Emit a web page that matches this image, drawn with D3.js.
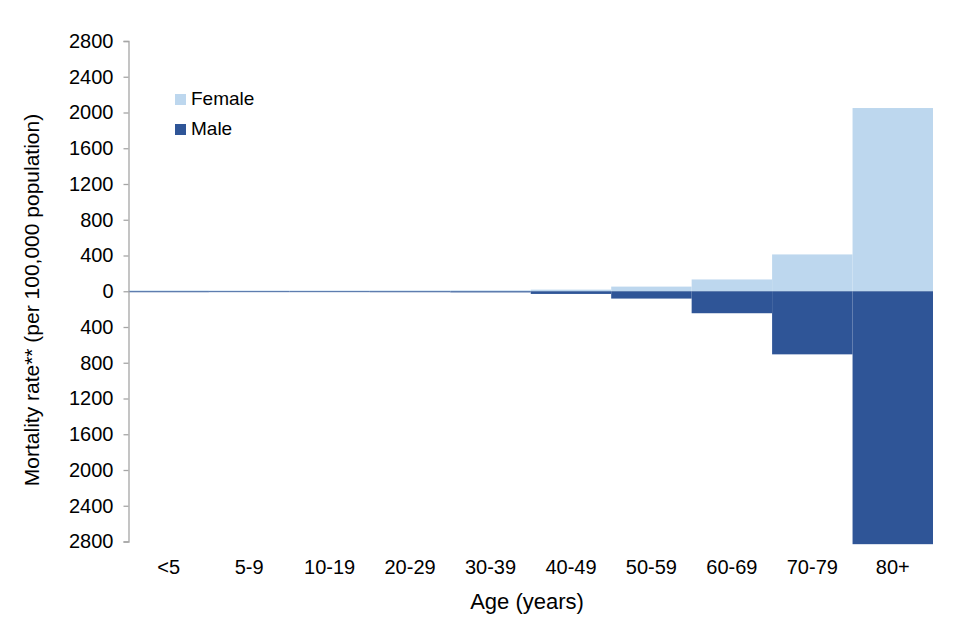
<!DOCTYPE html>
<html>
<head>
<meta charset="utf-8">
<script src="https://cdn.jsdelivr.net/npm/d3@7"></script>
<style>
  body { margin: 0; background: #fff; }
  text { font-family: "Liberation Sans", Arial, sans-serif; fill: #000; }
</style>
</head>
<body>
<div id="chart"></div>
<script>
// values (per 100,000 population)
var ages = ["<5", "5-9", "10-19", "20-29", "30-39", "40-49", "50-59", "60-69", "70-79", "80+"];
var female = [9, 8, 8, 9, 10, 18, 52, 132, 412, 2050];
var male = [11, 10, 10, 11, 13, 30, 82, 246, 706, 2830];
var yTicks = [-2800, -2400, -2000, -1600, -1200, -800, -400, 0, 400, 800, 1200, 1600, 2000, 2400, 2800];

var width = 960, height = 640;
var plotLeft = 128.5, plotRight = 933, plotTop = 41, plotBottom = 541.5;

var svg = d3.select("#chart").append("svg")
    .attr("width", width)
    .attr("height", height);

var x = d3.scaleBand()
    .domain(ages)
    .range([plotLeft, plotRight])
    .padding(0);

var y = d3.scaleLinear()
    .domain([-2800, 2800])
    .range([plotBottom, plotTop]);

// female bars go up
svg.selectAll(".female")
    .data(ages)
    .enter().append("rect")
    .attr("class", "female")
    .attr("x", function(d) { return x(d); })
    .attr("width", x.bandwidth())
    .attr("y", function(d, i) { return y(female[i]); })
    .attr("height", function(d, i) { return y(0) - y(female[i]); })
    .attr("fill", "#bdd7ee");

// male bars go down (80+ runs a little past the axis end, as in the original)
svg.selectAll(".male")
    .data(ages)
    .enter().append("rect")
    .attr("class", "male")
    .attr("x", function(d) { return x(d); })
    .attr("width", x.bandwidth())
    .attr("y", y(0))
    .attr("height", function(d, i) { return y(-male[i]) - y(0); })
    .attr("fill", "#2f5597");

// y axis
var yAxis = d3.axisLeft(y)
    .tickValues(yTicks)
    .tickSize(5)
    .tickPadding(10)
    .tickFormat(function(d) { return Math.abs(d); });

var gy = svg.append("g")
    .attr("transform", "translate(" + plotLeft + ",0)")
    .call(yAxis);
gy.select(".domain").attr("stroke", "#a6a6a6").attr("stroke-width", 1.3);
gy.selectAll(".tick line").attr("stroke", "#a6a6a6").attr("stroke-width", 1.3);
gy.selectAll(".tick text")
    .style("font-family", "Liberation Sans, Arial, sans-serif")
    .style("font-size", "20px")
    .attr("fill", "#000");

// category labels at the bottom
svg.selectAll(".xlab")
    .data(ages)
    .enter().append("text")
    .attr("class", "xlab")
    .attr("x", function(d) { return x(d) + x.bandwidth() / 2; })
    .attr("y", 574)
    .attr("text-anchor", "middle")
    .style("font-size", "20px")
    .text(function(d) { return d; });

// axis titles
svg.append("text")
    .attr("x", 527)
    .attr("y", 609)
    .attr("text-anchor", "middle")
    .style("font-size", "22px")
    .text("Age (years)");

svg.append("text")
    .attr("transform", "translate(39,300) rotate(-90)")
    .attr("text-anchor", "middle")
    .style("font-size", "21px")
    .text("Mortality rate** (per 100,000 population)");

// legend
var legend = [
  { name: "Female", color: "#bdd7ee", y: 94 },
  { name: "Male", color: "#2f5597", y: 124 }
];

var lg = svg.selectAll(".legend")
    .data(legend)
    .enter().append("g")
    .attr("class", "legend");

lg.append("rect")
    .attr("x", 175)
    .attr("y", function(d) { return d.y; })
    .attr("width", 11)
    .attr("height", 11)
    .attr("fill", function(d) { return d.color; });

lg.append("text")
    .attr("x", 191)
    .attr("y", function(d) { return d.y + 11; })
    .style("font-size", "19px")
    .text(function(d) { return d.name; });
</script>
</body>
</html>
